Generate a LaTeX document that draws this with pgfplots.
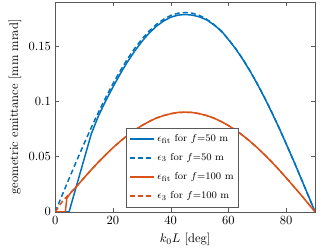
\documentclass[border=0pt]{standalone}
\usepackage{pgfplots}
\pgfplotsset{compat=1.18}
\definecolor{mblue}{rgb}{0,0.447,0.741}
\definecolor{morange}{rgb}{0.851,0.325,0.098}
\begin{document}
\begin{tikzpicture}
\begin{axis}[name=ax,
  scale only axis, width=207.8pt, height=167.8pt,
  xmin=0, xmax=90, ymin=0, ymax=0.19,
  xtick={0,20,40,60,80}, ytick={0,0.05,0.1,0.15},
  scaled y ticks=false,
  yticklabel style={/pgf/number format/fixed,/pgf/number format/precision=2},
  tick align=inside, tick pos=both,
  major tick length=3pt,
  axis line style={gray!70!black}, tick style={gray!70!black},
  xlabel={$k_0L$ [deg]},
  ylabel={geometric emittance [mm mrad]},
  ylabel style={yshift=-1pt},
  legend style={at={(0.707,0.022)}, anchor=south east, draw=gray!70!black, fill=white, font=\footnotesize, row sep=4.2pt, inner xsep=2pt, inner ysep=3pt},
  legend cell align=left,
  legend image code/.code={\draw[#1] (0pt,0pt) -- (19pt,0pt);},
  legend image post style={line width=1.5pt},
]
\addplot[mblue, line width=1.2pt] coordinates {
(0,0)(4.8,0)(7.5,0.0248)(10,0.0477)(12.5,0.0706)(15,0.0870)(17.5,0.1005)(20,0.1130)(22.5,0.1248)(25,0.1357)(27.5,0.1455)(30,0.1542)(32.5,0.1617)(35,0.1679)(37.5,0.1727)(40,0.1762)(42.5,0.1781)(45,0.1787)(47.5,0.1781)(50,0.1765)(52.5,0.1738)(55,0.1692)(57.5,0.1640)(60,0.1560)(62.5,0.1476)(65,0.1380)(67.5,0.1274)(70,0.1158)(72.5,0.1033)(75,0.0901)(77.5,0.0762)(80,0.0616)(82.5,0.0467)(85,0.0313)(87.5,0.0157)(90,0)};
\addlegendentry{$\epsilon_{\rm fit}$ for $f$=50 m}
\addplot[mblue, line width=1.2pt, dash pattern=on 4pt off 2.5pt] coordinates {
(0,0)(2.5,0.0157)(5,0.0313)(7.5,0.0467)(10,0.0617)(12.5,0.0763)(15,0.0903)(17.5,0.1035)(20,0.1160)(22.5,0.1276)(25,0.1383)(27.5,0.1479)(30,0.1563)(32.5,0.1636)(35,0.1696)(37.5,0.1743)(40,0.1778)(42.5,0.1798)(45,0.1805)(47.5,0.1798)(50,0.1778)(52.5,0.1743)(55,0.1696)(57.5,0.1636)(60,0.1563)(62.5,0.1479)(65,0.1383)(67.5,0.1276)(70,0.1160)(72.5,0.1035)(75,0.0903)(77.5,0.0763)(80,0.0617)(82.5,0.0467)(85,0.0313)(87.5,0.0157)(90,0)};
\addlegendentry{$\epsilon_3$ for $f$=50 m}
\addplot[morange, line width=1.2pt] coordinates {
(0,0)(3.5,0)(4,0.012)(5,0.0160)(7.5,0.0233)(10,0.0308)(12.5,0.0381)(15,0.0451)(17.5,0.0517)(20,0.0580)(22.5,0.0638)(25,0.0691)(27.5,0.0739)(30,0.0781)(32.5,0.0817)(35,0.0848)(37.5,0.0871)(40,0.0888)(42.5,0.0899)(45,0.0902)(47.5,0.0899)(50,0.0888)(52.5,0.0871)(55,0.0848)(57.5,0.0817)(60,0.0781)(62.5,0.0739)(65,0.0691)(67.5,0.0638)(70,0.0580)(72.5,0.0517)(75,0.0451)(77.5,0.0381)(80,0.0308)(82.5,0.0233)(85,0.0157)(87.5,0.0079)(90,0)};
\addlegendentry{$\epsilon_{\rm fit}$ for $f$=100 m}
\addplot[morange, line width=1.2pt, dash pattern=on 4pt off 2.5pt] coordinates {
(0,0)(2.5,0.0095)(5,0.0165)(7.5,0.0233)(10,0.0308)(12.5,0.0381)(15,0.0451)(17.5,0.0517)(20,0.0580)(22.5,0.0638)(25,0.0691)(27.5,0.0739)(30,0.0781)(32.5,0.0817)(35,0.0848)(37.5,0.0871)(40,0.0888)(42.5,0.0899)(45,0.0902)(47.5,0.0899)(50,0.0888)(52.5,0.0871)(55,0.0848)(57.5,0.0817)(60,0.0781)(62.5,0.0739)(65,0.0691)(67.5,0.0638)(70,0.0580)(72.5,0.0517)(75,0.0451)(77.5,0.0381)(80,0.0308)(82.5,0.0233)(85,0.0157)(87.5,0.0079)(90,0)};
\addlegendentry{$\epsilon_3$ for $f$=100 m}
\end{axis}
\pgfresetboundingbox
\path ([xshift=-44.2pt,yshift=-30.4pt]ax.south west) rectangle ([xshift=13.6pt,yshift=1.6pt]ax.north east);
\end{tikzpicture}
\end{document}
